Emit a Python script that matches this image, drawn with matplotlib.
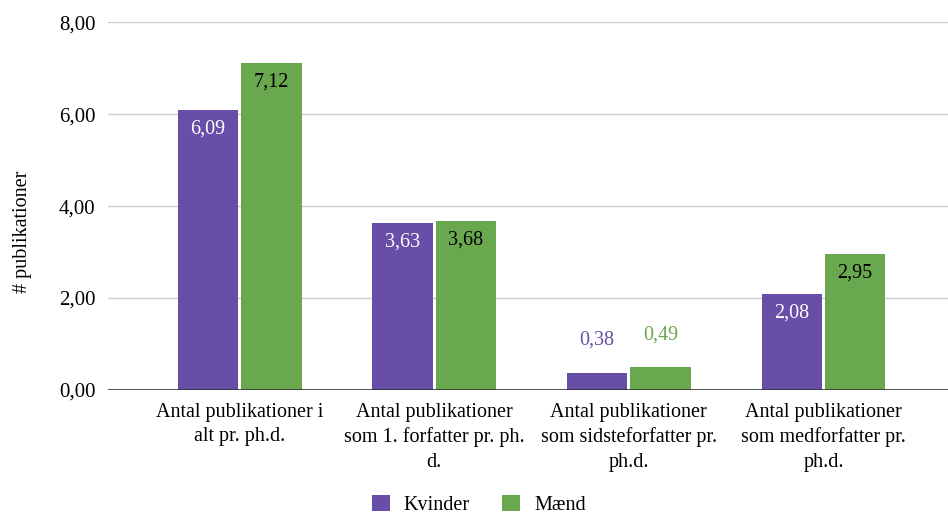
import matplotlib.pyplot as plt
import numpy as np

categories = ["Antal publikationer i\nalt pr. ph.d.",
              "Antal publikationer\nsom 1. forfatter pr. ph.\nd.",
              "Antal publikationer\nsom sidsteforfatter pr.\nph.d.",
              "Antal publikationer\nsom medforfatter pr.\nph.d."]
kvinder = [6.09, 3.63, 0.38, 2.08]
maend = [7.12, 3.68, 0.49, 2.95]
yticks = [0, 2, 4, 6, 8]

purple = '#674ea7'
green = '#6aa84f'

plt.rcParams['font.family'] = ['Liberation Serif', 'DejaVu Serif']
fs = 14.5

fig = plt.figure(figsize=(9.48, 5.15), dpi=100)
ax = fig.add_axes([0.114, 0.2427, 0.886, 0.7143])

x = np.arange(len(categories))
w = 0.31
off = 0.163
b1 = ax.bar(x - off, kvinder, w, color=purple, label='Kvinder', zorder=3)
b2 = ax.bar(x + off, maend, w, color=green, label='Mænd', zorder=3)

def fmt(v):
    return f"{v:.2f}".replace('.', ',')

for bars, vals, col, incol in [(b1, kvinder, purple, 'white'), (b2, maend, green, 'black')]:
    for rect, v in zip(bars, vals):
        cx = rect.get_x() + rect.get_width() / 2
        if v > 1:
            ax.annotate(fmt(v), (cx, v), xytext=(0, -19), textcoords='offset pixels',
                        ha='center', va='center', color=incol, fontsize=fs, zorder=4)
        else:
            ax.annotate(fmt(v), (cx, v), xytext=(0, 32), textcoords='offset pixels',
                        ha='center', va='center', color=col, fontsize=fs, zorder=4)

ax.set_ylim(0, 8)
ax.set_xlim(-0.676, 3.64)
ax.set_yticks(yticks)
ax.set_yticklabels([fmt(t) for t in yticks], fontsize=15)
ax.set_xticks(x)
ax.set_xticklabels(categories, fontsize=fs, linespacing=1.4)
ax.tick_params(axis='y', length=0, pad=9)
ax.tick_params(axis='x', length=0, pad=9)
ax.grid(axis='y', color='#cccccc', linewidth=1, zorder=0)
ax.axhline(0, color='#333333', linewidth=1.2, zorder=5)
for s in ax.spines.values():
    s.set_visible(False)

ax.set_ylabel('# publikationer', fontsize=fs)
ax.yaxis.set_label_coords(-0.091, 0.43)

fig.legend(loc='lower center', bbox_to_anchor=(0.505, -0.035), ncol=2, frameon=False,
           fontsize=fs, handlelength=0.9, handleheight=0.9, columnspacing=1.6, handletextpad=0.7)

fig.savefig('out.png', dpi=100)
